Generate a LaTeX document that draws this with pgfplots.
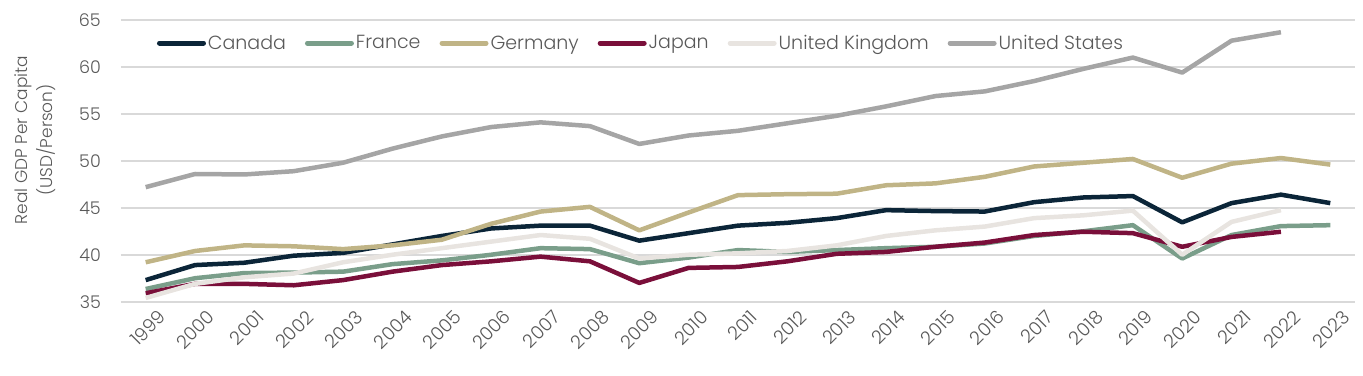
\documentclass[border=0pt]{standalone}
\usepackage{fontspec}
\setmainfont{Poppins}[UprightFont=* Light]
\usepackage{pgfplots}
\pgfplotsset{compat=1.18}
\definecolor{cCan}{HTML}{0B2538}
\definecolor{cFra}{HTML}{7A9E8A}
\definecolor{cGer}{HTML}{C0B486}
\definecolor{cJap}{HTML}{7A0F3A}
\definecolor{cUK}{HTML}{E8E4E0}
\definecolor{cUS}{HTML}{A5A5A5}
\definecolor{txt}{HTML}{595959}
\definecolor{grd}{HTML}{D9D9D9}
\begin{document}
\begin{tikzpicture}
\begin{axis}[
  scale only axis, width=1234pt, height=281.7pt,
  xmin=1998.5, xmax=2023.5, ymin=35, ymax=65,
  ytick={35,40,...,65},
  xtick={1999,...,2023},
  /pgf/number format/assume math mode=true,
  /pgf/number format/1000 sep={},
  axis line style={draw=none}, tick style={draw=none},
  ymajorgrids, major grid style={grd, line width=1.6pt},
  xticklabel style={font=\fontsize{18.5}{20}\selectfont, text=txt, rotate=45, anchor=north east, inner sep=0pt, yshift=-13pt, xshift=3pt},
  yticklabel style={font=\fontsize{17.5}{20}\selectfont, text=txt, inner sep=0pt, xshift=-20pt},
  ylabel={Real GDP Per Capita\\(USD/Person)},
  ylabel style={at={(axis description cs:-0.0697,0.574)}, anchor=center, align=center, font=\fontsize{17}{25}\selectfont, text=txt},
  legend columns=-1,
  legend style={at={(axis description cs:0.029,0.918)}, anchor=west, draw=none, fill=none,
    font=\fontsize{19}{20}\selectfont, text=txt, inner xsep=0pt,
    /tikz/every even column/.append style={column sep=17pt}},
  legend image code/.code={\draw[#1, line width=5pt, line cap=round] (0pt,0pt) -- (44pt,0pt);},
  every axis plot/.append style={line width=4.5pt, line join=round, no marks},
]
\addplot[cCan] coordinates {(1999,37.3)(2000,38.9)(2001,39.15)(2002,39.9)(2003,40.2)(2004,41.1)(2005,42.0)(2006,42.8)(2007,43.1)(2008,43.1)(2009,41.5)(2010,42.3)(2011,43.1)(2012,43.4)(2013,43.9)(2014,44.75)(2015,44.65)(2016,44.6)(2017,45.6)(2018,46.1)(2019,46.25)(2020,43.45)(2021,45.5)(2022,46.4)(2023,45.5)};
\addlegendentry{Canada}
\addplot[cFra] coordinates {(1999,36.35)(2000,37.5)(2001,38.05)(2002,38.1)(2003,38.2)(2004,39.0)(2005,39.4)(2006,40.0)(2007,40.7)(2008,40.6)(2009,39.1)(2010,39.7)(2011,40.5)(2012,40.3)(2013,40.5)(2014,40.7)(2015,40.85)(2016,41.2)(2017,42.0)(2018,42.5)(2019,43.15)(2020,39.6)(2021,42.1)(2022,43.05)(2023,43.15)};
\addlegendentry{France}
\addplot[cGer] coordinates {(1999,39.2)(2000,40.4)(2001,41.0)(2002,40.9)(2003,40.6)(2004,41.0)(2005,41.6)(2006,43.3)(2007,44.6)(2008,45.1)(2009,42.6)(2010,44.5)(2011,46.35)(2012,46.45)(2013,46.5)(2014,47.4)(2015,47.6)(2016,48.3)(2017,49.4)(2018,49.8)(2019,50.2)(2020,48.2)(2021,49.7)(2022,50.3)(2023,49.6)};
\addlegendentry{Germany}
\addplot[cJap] coordinates {(1999,35.9)(2000,36.9)(2001,36.9)(2002,36.75)(2003,37.3)(2004,38.2)(2005,38.9)(2006,39.3)(2007,39.8)(2008,39.3)(2009,37.0)(2010,38.6)(2011,38.7)(2012,39.3)(2013,40.1)(2014,40.3)(2015,40.85)(2016,41.3)(2017,42.1)(2018,42.45)(2019,42.3)(2020,40.85)(2021,41.9)(2022,42.45)};
\addlegendentry{Japan}
\addplot[cUK] coordinates {(1999,35.4)(2000,36.9)(2001,37.6)(2002,38.0)(2003,39.2)(2004,40.0)(2005,40.7)(2006,41.4)(2007,42.1)(2008,41.7)(2009,39.6)(2010,40.0)(2011,40.15)(2012,40.4)(2013,41.0)(2014,42.0)(2015,42.6)(2016,43.0)(2017,43.9)(2018,44.2)(2019,44.7)(2020,40.0)(2021,43.5)(2022,44.75)};
\addlegendentry{United Kingdom}
\addplot[cUS] coordinates {(1999,47.2)(2000,48.6)(2001,48.55)(2002,48.9)(2003,49.8)(2004,51.3)(2005,52.6)(2006,53.6)(2007,54.1)(2008,53.7)(2009,51.8)(2010,52.7)(2011,53.2)(2012,54.0)(2013,54.8)(2014,55.8)(2015,56.9)(2016,57.4)(2017,58.5)(2018,59.8)(2019,61.0)(2020,59.4)(2021,62.8)(2022,63.7)};
\addlegendentry{United States}
\end{axis}
\pgfresetboundingbox
\path[use as bounding box] (-121pt,-73.3pt) rectangle (1242pt,301.7pt);
\end{tikzpicture}
\end{document}
